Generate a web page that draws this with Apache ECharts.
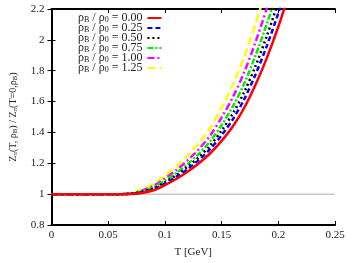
<!DOCTYPE html>
<html><head><meta charset="utf-8">
<script src="https://cdn.jsdelivr.net/npm/echarts@6/dist/echarts.min.js"></script>
<style>html,body{margin:0;padding:0;background:#fff}#c{width:353px;height:263px}</style>
</head><body><div id="c"></div>
<script>
// Temperature grid [GeV]
const T = [0, 0.02, 0.04, 0.06, 0.07, 0.08, 0.09, 0.10, 0.11, 0.12, 0.13, 0.14, 0.15, 0.16, 0.17, 0.18, 0.19, 0.20, 0.21];
const z000 = [1, 1, 1, 1.000, 1.001, 1.008, 1.025, 1.058, 1.098, 1.145, 1.200, 1.265, 1.345, 1.440, 1.560, 1.710, 1.885, 2.085, 2.310];
const z025 = [1, 1, 1, 1.000, 1.002, 1.012, 1.032, 1.069, 1.112, 1.163, 1.222, 1.293, 1.382, 1.486, 1.616, 1.777, 1.963, 2.173, 2.409];
const z050 = [1, 1, 1, 1.000, 1.003, 1.015, 1.038, 1.077, 1.123, 1.178, 1.241, 1.316, 1.412, 1.524, 1.662, 1.832, 2.028, 2.246, 2.490];
const z075 = [1, 1, 1, 1.000, 1.003, 1.019, 1.045, 1.088, 1.137, 1.195, 1.263, 1.344, 1.448, 1.570, 1.718, 1.900, 2.106, 2.335, 2.588];
const z100 = [1, 1, 1, 1.000, 1.004, 1.023, 1.054, 1.101, 1.155, 1.219, 1.292, 1.381, 1.496, 1.629, 1.791, 1.987, 2.207, 2.449, 2.716];
const z125 = [1, 1, 1, 1.000, 1.006, 1.030, 1.067, 1.120, 1.180, 1.250, 1.332, 1.430, 1.560, 1.710, 1.890, 2.105, 2.345, 2.605, 2.890];
const labels = ['0.00', '0.25', '0.50', '0.75', '1.00', '1.25'];
const baseT = [0, 0.25];
const baseZ = [1, 1];
const xTicks = [0, 0.05, 0.1, 0.15, 0.2, 0.25];
const yTicks = [0.8, 1, 1.2, 1.4, 1.6, 1.8, 2, 2.2];

const colors = ['#ff0000', '#0000ff', '#000000', '#00ee00', '#ff00ff', '#ffff00'];
const dashes = ['solid', [5, 3], [2, 3], [6, 2, 2, 2], [7, 3, 2, 3], [8, 4]];
const sets = [z000, z025, z050, z075, z100, z125];
const font = 'Liberation Serif';
const txt = '#222';

const chart = echarts.init(document.getElementById('c'), null, {renderer: 'canvas'});
const series = sets.map((zs, i) => ({
  name: labels[i],
  type: 'line',
  data: T.map((t, k) => [t, zs[k]]),
  showSymbol: false,
  symbol: 'none',
  smooth: 0.3,
  clip: true,
  z: 10 - i,
  lineStyle: {color: colors[i], width: 2.5, type: dashes[i]},
  itemStyle: {color: colors[i]}
}));
series.unshift({
  name: 'base',
  type: 'line',
  data: baseT.map((t, k) => [t, baseZ[k]]),
  symbol: 'none',
  lineStyle: {color: '#aaaaaa', width: 1},
  z: 1,
  silent: true
});

const axisCommon = {
  axisLine: {lineStyle: {color: '#000', width: 2}},
  axisTick: {inside: true, length: 4, lineStyle: {color: '#000', width: 1}},
  splitLine: {show: false}
};
const rich = {
  t: {fontFamily: font, fontSize: 10, color: txt},
  s: {fontFamily: font, fontSize: 7, color: txt, padding: [4, 0, 0, 0]}
};
const legRich = {
  t: {fontFamily: font, fontSize: 12, color: txt, lineHeight: 10},
  s: {fontFamily: font, fontSize: 8, color: txt, lineHeight: 10, padding: [4, 0, 0, 0]}
};
chart.setOption({
  animation: false,
  grid: {left: 48, right: 18, top: 9, bottom: 31},
  legend: {
    data: labels,
    orient: 'vertical',
    left: 78,
    top: 12,
    align: 'right',
    itemWidth: 14,
    itemHeight: 8,
    itemGap: -2,
    padding: 0,
    itemStyle: {color: 'rgba(0,0,0,0)', borderWidth: 0, opacity: 0},
    formatter: n => '{t|ρ}{s|B}{t| / ρ}{s|0}{t| = ' + n + '}',
    textStyle: {fontFamily: font, fontSize: 12, color: txt, lineHeight: 10, rich: legRich}
  },
  xAxis: [{
    type: 'value', min: 0, max: 0.25, interval: 0.05,
    name: 'T [GeV]', nameLocation: 'middle', nameGap: 22,
    nameTextStyle: {fontFamily: font, fontSize: 11, color: txt},
    axisLabel: {fontFamily: font, fontSize: 11, color: txt, margin: 5,
      formatter: v => { const m = xTicks.find(t => Math.abs(t - v) < 1e-9); return m === undefined ? '' : String(m); }},
    ...axisCommon
  }, {
    type: 'value', min: 0, max: 0.25, interval: 0.05, position: 'top',
    axisLabel: {show: false}, ...axisCommon
  }],
  yAxis: [{
    type: 'value', min: 0.8, max: 2.2, interval: 0.2,
    name: '{t|Z}{s|π}{t|(T, ρ}{s|B}{t|) / Z}{s|π}{t|(T=0,ρ}{s|B}{t|)}',
    nameLocation: 'middle', nameGap: 33,
    nameTextStyle: {fontFamily: font, fontSize: 10, color: txt, rich: rich},
    axisLabel: {fontFamily: font, fontSize: 11, color: txt, margin: 7,
      formatter: v => { const m = yTicks.find(t => Math.abs(t - v) < 1e-9); return m === undefined ? '' : String(m); }},
    ...axisCommon
  }, {
    type: 'value', min: 0.8, max: 2.2, interval: 0.2, position: 'right',
    axisLabel: {show: false}, ...axisCommon
  }],
  series: series
});
</script></body></html>
